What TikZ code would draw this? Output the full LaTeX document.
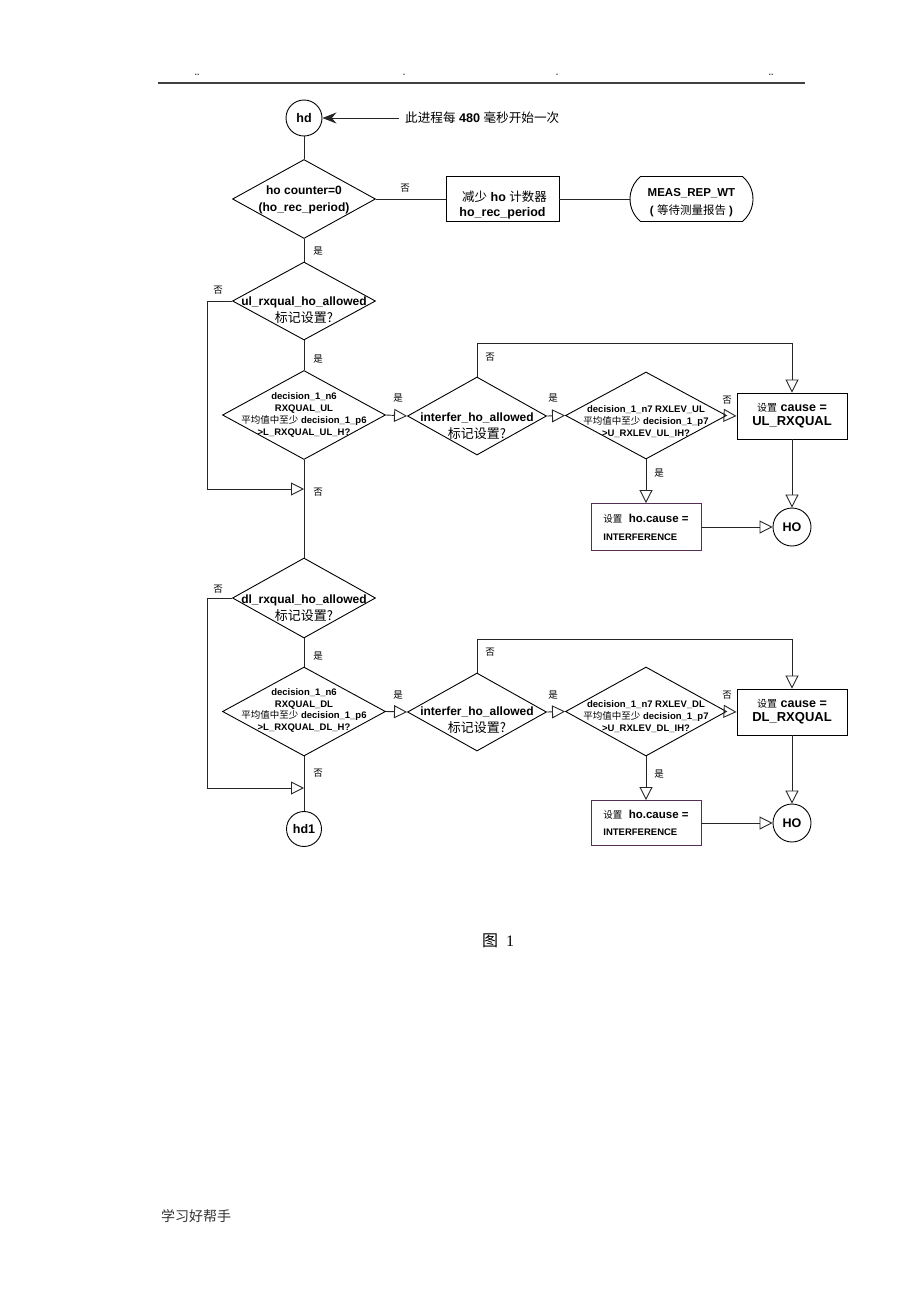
\documentclass[tikz,border=0pt]{standalone}
\usepackage{fontspec}
\setmainfont{Liberation Sans}
\newfontfamily\cjk{Noto Sans CJK SC}
\newfontfamily\serifnum{Liberation Serif}
\usetikzlibrary{arrows.meta,shapes.geometric,shapes.misc}
\newcommand{\zh}[1]{{\cjk #1}}
\definecolor{boxpurple}{RGB}{85,45,85}
\tikzset{
    decision/.style = {
        draw, diamond, inner sep=0pt, line width=0.9pt,
        },
    dtext/.style = {
        align=center, inner sep=0pt,
        font=\bfseries\fontsize{12}{17}\selectfont,
        },
    dsmall/.style = {
        align=center, inner sep=0pt,
        font=\bfseries\fontsize{9.5}{11.7}\selectfont,
        },
    process/.style = {
        draw, rectangle, line width=0.9pt, align=center, inner sep=0pt,
        },
    connector/.style = {
        draw, circle, line width=0.9pt, minimum size=36pt, inner sep=0pt,
        font=\bfseries\fontsize{12.5}{14}\selectfont,
        },
    flow/.style = {
        line width=0.9pt, draw=black!85,
        },
    open tip/.style = {
        -{Triangle[open, length=13pt, width=13pt]},
        },
    yesno/.style = {
        inner sep=0pt, font=\cjk\fontsize{9.5}{10}\selectfont,
        },
}
\newcommand{\flag}{\zh{\mdseries\fontsize{13}{17}\selectfont 标记设置?}}
\begin{document}
\begin{tikzpicture}[
        x=1pt, y=-1pt,
        mark text/.style={inner sep=0pt, text=black!70, font=\bfseries\fontsize{9}{9}\selectfont},
    ]
    \useasboundingbox[fill=white] (0,0) rectangle (920,1302);

    % page header
    \coordinate (hl) at (158,83);
    \coordinate (hr) at (805,83);
    \draw[line width=1.3pt, black!75] (hl) -- (hr);
    \node[mark text] (m1) at (197,75) {..};
    \node[mark text] (m2) at (404,75) {.};
    \node[mark text] (m3) at (557,75) {.};
    \node[mark text] (m4) at (771,75) {..};

    % start
    \node[connector] (hd) at (304,118) {hd};
    \node[anchor=west, inner sep=0pt, font=\fontsize{12.6}{14}\selectfont] (note) at (405,118)
        {\zh{此进程每} \textbf{480} \zh{毫秒开始一次}};
    \draw[flow, -{Stealth[length=14pt, width=11pt]}, shorten <=6pt] (note.west) -- (hd.east);

    \node[decision, minimum width=143pt, minimum height=79pt,
          label={[dtext, yshift=-1pt]center:{ho counter=0\\(ho\_rec\_period)}}] (d1) at (304,199) {};
    \node[process, minimum width=113pt, minimum height=45pt,
          label={[align=center, yshift=-6pt, font=\bfseries\fontsize{12.5}{15}\selectfont]center:{\,\,\zh{\mdseries 减少} ho \zh{\mdseries 计数器}\\ho\_rec\_period}}] (reduce) at (502.5,199) {};
    \node[draw, rounded rectangle, rounded rectangle arc length=100, line width=0.9pt,
          minimum width=123pt, minimum height=45pt, inner sep=0pt,
          label={[align=center, yshift=-4pt, font=\bfseries\fontsize{11.5}{18}\selectfont]center:{MEAS\_REP\_WT\\( \zh{\mdseries 等待测量报告} )}}] (meas) at (691.5,199) {};

    % uplink part
    \node[decision, minimum width=143pt, minimum height=78pt,
          label={[dtext, yshift=-9pt]center:{ul\_rxqual\_ho\_allowed\\\flag}}] (d2) at (304,301) {};
    \node[decision, minimum width=163pt, minimum height=89pt,
          label={[dsmall]center:{decision\_1\_n6\\RXQUAL\_UL\\\zh{\mdseries 平均值中至少} decision\_1\_p6\\>L\_RXQUAL\_UL\_H?}}] (d3) at (304,415) {};
    \node[decision, minimum width=139pt, minimum height=78pt,
          label={[dtext, yshift=-10pt]center:{interfer\_ho\_allowed\\\flag}}] (d4) at (477,416) {};
    \node[decision, minimum width=161pt, minimum height=87pt,
          label={[dsmall, yshift=-6pt]center:{decision\_1\_n7 RXLEV\_UL\\\zh{\mdseries 平均值中至少} decision\_1\_p7\\>U\_RXLEV\_UL\_IH?}}] (d5) at (646,415.5) {};
    \node[process, minimum width=110pt, minimum height=46pt,
          font=\bfseries\fontsize{12.5}{14}\selectfont] (ulbox) at (792,416)
        {\zh{\mdseries\fontsize{10}{14}\selectfont 设置} cause =\\\fontsize{13}{14}\selectfont UL\_RXQUAL};
    \node[process, draw=boxpurple, minimum width=110pt, minimum height=47pt, align=left,
          font=\bfseries\fontsize{11.5}{18}\selectfont] (int1) at (646,527)
        {\zh{\mdseries\fontsize{9.5}{18}\selectfont 设置}\ \ ho.cause =\\\fontsize{9.5}{18}\selectfont INTERFERENCE};
    \node[connector, minimum size=38pt] (ho1) at (792,527) {HO};

    % downlink part
    \node[decision, minimum width=143pt, minimum height=80pt,
          label={[dtext, yshift=-10pt]center:{dl\_rxqual\_ho\_allowed\\\flag}}] (d6) at (304,598) {};
    \node[decision, minimum width=163pt, minimum height=89pt,
          label={[dsmall, yshift=1pt]center:{decision\_1\_n6\\RXQUAL\_DL\\\zh{\mdseries 平均值中至少} decision\_1\_p6\\>L\_RXQUAL\_DL\_H?}}] (d7) at (304,711.5) {};
    \node[decision, minimum width=139pt, minimum height=78pt,
          label={[dtext, yshift=-8pt]center:{interfer\_ho\_allowed\\\flag}}] (d8) at (477,712) {};
    \node[decision, minimum width=161pt, minimum height=89pt,
          label={[dsmall, yshift=-5pt]center:{decision\_1\_n7 RXLEV\_DL\\\zh{\mdseries 平均值中至少} decision\_1\_p7\\>U\_RXLEV\_DL\_IH?}}] (d9) at (646,711.5) {};
    \node[process, minimum width=110pt, minimum height=46pt,
          font=\bfseries\fontsize{12.5}{14}\selectfont] (dlbox) at (792,712)
        {\zh{\mdseries\fontsize{10}{14}\selectfont 设置} cause =\\\fontsize{13}{14}\selectfont DL\_RXQUAL};
    \node[process, draw=boxpurple, minimum width=110pt, minimum height=45pt, align=left,
          font=\bfseries\fontsize{11.5}{17}\selectfont] (int2) at (646,823)
        {\zh{\mdseries\fontsize{9.5}{17}\selectfont 设置}\ \ ho.cause =\\\fontsize{9.5}{17}\selectfont INTERFERENCE};
    \node[connector, minimum size=38pt] (ho2) at (792,823) {HO};
    \node[connector, minimum size=35pt] (hd1) at (304,829) {hd1};

    % bend points
    \coordinate (ulskip) at (207,489);
    \coordinate (ulmerge) at (304,489);
    \coordinate (ulturn) at (477,343);
    \coordinate (dlskip) at (207,788);
    \coordinate (dlmerge) at (304,788);
    \coordinate (dlturn) at (477,639);

    % main line
    \draw[flow] (hd) -- (d1.north);
    \draw[flow] (d1.east) -- (reduce.west);
    \draw[flow] (reduce.east) -- (meas.west);
    \draw[flow] (d1.south) -- (d2.north);
    \draw[flow] (d2.south) -- (d3.north);
    \draw[flow] (d3.south) -- (d6.north);
    \draw[flow] (d6.south) -- (d7.north);
    \draw[flow] (d7.south) -- (hd1.north);

    % uplink arrows
    \draw[flow, open tip] (d2.west) -| (ulskip) -- (ulmerge);
    \draw[flow, open tip] (d3.east) -- (d4.west);
    \draw[flow, open tip] (d4.east) -- (d5.west);
    \draw[flow, open tip] (d4.north) -- (ulturn) -| (ulbox.north);
    \draw[flow, open tip] (d5.east) -- (ulbox.west);
    \draw[flow, open tip] (d5.south) -- (int1.north);
    \draw[flow, open tip] (int1.east) -- (ho1.west);
    \draw[flow, open tip] (ulbox.south) -- (ho1.north);

    % downlink arrows
    \draw[flow, open tip] (d6.west) -| (dlskip) -- (dlmerge);
    \draw[flow, open tip] (d7.east) -- (d8.west);
    \draw[flow, open tip] (d8.east) -- (d9.west);
    \draw[flow, open tip] (d8.north) -- (dlturn) -| (dlbox.north);
    \draw[flow, open tip] (d9.east) -- (dlbox.west);
    \draw[flow, open tip] (d9.south) -- (int2.north);
    \draw[flow, open tip] (int2.east) -- (ho2.west);
    \draw[flow, open tip] (dlbox.south) -- (ho2.north);

    % yes / no labels
    \node[yesno] (n1) at (405,188) {否};
    \node[yesno] (y1) at (318,251) {是};
    \node[yesno] (n2) at (218,290) {否};
    \node[yesno] (y2) at (318,359) {是};
    \node[yesno] (n3) at (318,492) {否};
    \node[yesno] (y3) at (398,398) {是};
    \node[yesno] (y4) at (553,398) {是};
    \node[yesno] (n4) at (490,357) {否};
    \node[yesno] (n5) at (727,400) {否};
    \node[yesno] (y5) at (659,473) {是};
    \node[yesno] (n6) at (218,589) {否};
    \node[yesno] (y6) at (318,656) {是};
    \node[yesno] (n7) at (318,773) {否};
    \node[yesno] (y7) at (398,695) {是};
    \node[yesno] (y8) at (553,695) {是};
    \node[yesno] (n8) at (490,652) {否};
    \node[yesno] (n9) at (727,695) {否};
    \node[yesno] (y9) at (659,774) {是};

    % caption and footer
    \node[inner sep=0pt, font=\fontsize{16}{18}\selectfont] (cap) at (498,941)
        {\zh{图}\hspace{8pt}{\serifnum 1}};
    \node[anchor=west, inner sep=0pt, text=black!80, font=\cjk\fontsize{14}{16}\selectfont] (foot) at (161,1216)
        {学习好帮手};
\end{tikzpicture}
\end{document}
